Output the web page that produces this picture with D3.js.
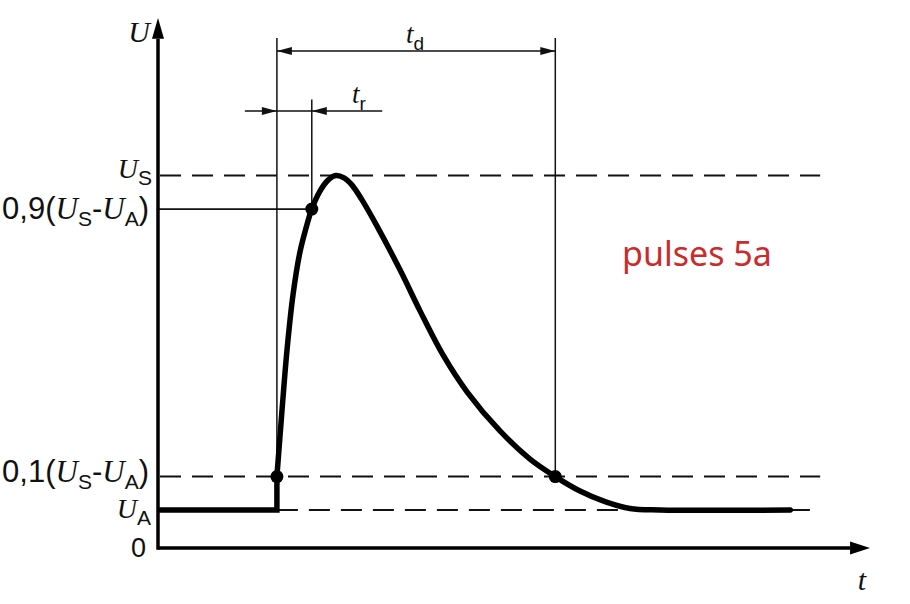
<!DOCTYPE html>
<html><head><meta charset="utf-8">
<script src="https://cdn.jsdelivr.net/npm/d3@7"></script>
<style>
html,body{margin:0;padding:0;background:#fff;}
svg{display:block;}
</style></head>
<body>
<svg id="chart" width="910" height="604"></svg>
<script>
// ---- data ----
const stepTime = [0, 16.7, 16.7];
const stepU    = [1.0, 1.0, 1.88];
const curveTime = [16.7, 17.42, 18.12, 18.96, 19.94, 20.79, 21.6, 22.75, 23.88, 25.0, 26.12, 27.25, 28.65, 30.76, 33.99, 36.8, 40.03, 43.4, 48.03, 52.25, 55.8, 59.27, 62.78, 66.29, 70.51, 88.8];
const curveU    = [1.88, 3.63, 5.21, 6.66, 7.79, 8.42, 8.92, 9.39, 9.68, 9.80, 9.74, 9.55, 9.16, 8.47, 7.32, 6.24, 5.08, 4.11, 3.08, 2.34, 1.88, 1.50, 1.22, 1.04, 1.0, 1.0];
const levelNames = ["0", "UA", "U10", "U90", "US"];
const levelU     = [0, 1.0, 1.88, 8.92, 9.8];
const markerTime = [16.7, 21.6, 55.8];
const markerU    = [1.88, 8.92, 1.88];
const riseTime = [16.7, 21.6];    // t_r
const durTime  = [16.7, 55.8];    // t_d
const titleText = "pulses 5a";

// ---- scales ----
const x = d3.scaleLinear().domain([0, 100]).range([158, 870]);
const y = d3.scaleLinear().domain([0, 14]).range([548, 16]);

const svg = d3.select("#chart");
const SANS = "'Liberation Sans', Arial, sans-serif";
const SERIF = "'Liberation Serif', 'Times New Roman', serif";
const INK = "#111";

// reference level lines
const dashEnd = 93.0;
const U = i => levelU[i];
svg.append("line").attr("x1", x(0) + 2).attr("x2", x(dashEnd)).attr("y1", y(U(4))).attr("y2", y(U(4)))
  .attr("stroke", INK).attr("stroke-width", 2).attr("stroke-dasharray", "21,11");
svg.append("line").attr("x1", x(0) + 2).attr("x2", x(dashEnd)).attr("y1", y(U(2))).attr("y2", y(U(2)))
  .attr("stroke", INK).attr("stroke-width", 2).attr("stroke-dasharray", "21,11");
svg.append("line").attr("x1", x(stepTime[1])).attr("x2", x(dashEnd)).attr("y1", y(U(1))).attr("y2", y(U(1)))
  .attr("stroke", INK).attr("stroke-width", 2).attr("stroke-dasharray", "21,11");
svg.append("line").attr("x1", x(0)).attr("x2", x(markerTime[1])).attr("y1", y(U(3))).attr("y2", y(U(3)))
  .attr("stroke", INK).attr("stroke-width", 1.7);

// vertical thin lines
const vTop = 13.42, vTopRise = 11.8;
svg.append("line").attr("x1", x(durTime[0])).attr("x2", x(durTime[0])).attr("y1", y(vTop)).attr("y2", y(U(1)))
  .attr("stroke", INK).attr("stroke-width", 1.5);
svg.append("line").attr("x1", x(riseTime[1])).attr("x2", x(riseTime[1])).attr("y1", y(vTopRise)).attr("y2", y(U(3)))
  .attr("stroke", INK).attr("stroke-width", 1.5);
svg.append("line").attr("x1", x(durTime[1])).attr("x2", x(durTime[1])).attr("y1", y(vTop)).attr("y2", y(U(2)))
  .attr("stroke", INK).attr("stroke-width", 1.5);

function hArrow(tx, ty, dir, len, hw) {
  svg.append("path")
    .attr("d", `M${tx},${ty} L${tx - dir*len},${ty - hw} L${tx - dir*len},${ty + hw} Z`)
    .attr("fill", INK);
}
// t_d dimension
const tdU = 13.08;
svg.append("line").attr("x1", x(durTime[0])).attr("x2", x(durTime[1])).attr("y1", y(tdU)).attr("y2", y(tdU))
  .attr("stroke", INK).attr("stroke-width", 1.5);
hArrow(x(durTime[0]), y(tdU), -1, 15, 4);
hArrow(x(durTime[1]), y(tdU), 1, 15, 4);
// t_r dimension
const trU = 11.5, trLeft = 12.2, trRight = 31.5;
svg.append("line").attr("x1", x(trLeft)).attr("x2", x(trRight)).attr("y1", y(trU)).attr("y2", y(trU))
  .attr("stroke", INK).attr("stroke-width", 1.5);
hArrow(x(riseTime[0]), y(trU), 1, 15, 4);
hArrow(x(riseTime[1]), y(trU), -1, 15, 4);

// axes
svg.append("line").attr("x1", x(0)).attr("x2", x(0)).attr("y1", y(0) + 1.75).attr("y2", y(13.4))
  .attr("stroke", "#000").attr("stroke-width", 3.5);
svg.append("path").attr("d", `M${x(0)},${y(13.95)} L${x(0)-6},${y(13.4)} L${x(0)+6},${y(13.4)} Z`).attr("fill", "#000");
svg.append("line").attr("x1", x(0)).attr("x2", x(97.2)).attr("y1", y(0)).attr("y2", y(0))
  .attr("stroke", "#000").attr("stroke-width", 3.5);
svg.append("path").attr("d", `M${x(100)},${y(0)} L${x(97.2)},${y(0)-6.5} L${x(97.2)},${y(0)+6.5} Z`).attr("fill", "#000");

// pulse
const line = d3.line().x((d) => x(d[0])).y((d) => y(d[1]));
svg.append("path").datum(stepTime.map((t, i) => [t, stepU[i]]))
  .attr("d", line).attr("fill", "none").attr("stroke", "#000").attr("stroke-width", 5.5)
  .attr("stroke-linejoin", "miter").attr("stroke-linecap", "butt");
svg.append("path").datum(curveTime.map((t, i) => [t, curveU[i]]))
  .attr("d", line.curve(d3.curveCatmullRom.alpha(0.5))).attr("fill", "none").attr("stroke", "#000").attr("stroke-width", 5.5)
  .attr("stroke-linejoin", "round").attr("stroke-linecap", "round");

// markers
svg.selectAll("circle.m").data(markerTime).enter().append("circle")
  .attr("cx", (d) => x(d)).attr("cy", (d, i) => y(markerU[i])).attr("r", 6.5).attr("fill", "#000");

function rich(t, parts, size, subSize) {
  parts.forEach(p => {
    const ts = t.append("tspan").text(p.t);
    if (p.k === "it") ts.attr("font-family", SERIF).attr("font-style", "italic").attr("font-size", size);
    else if (p.k === "sub") ts.attr("font-family", SANS).attr("font-size", subSize).attr("dy", 7);
    else ts.attr("font-family", SANS).attr("font-size", size);
    if (p.back) ts.attr("dy", -7);
  });
}
const labelParts = {
  "0":   [{t: "0"}],
  "UA":  [{t: "U", k: "it"}, {t: "A", k: "sub"}],
  "U10": [{t: "0,1("}, {t: "U", k: "it"}, {t: "S", k: "sub"}, {t: "-", back: true}, {t: "U", k: "it"}, {t: "A", k: "sub"}, {t: ")", back: true}],
  "U90": [{t: "0,9("}, {t: "U", k: "it"}, {t: "S", k: "sub"}, {t: "-", back: true}, {t: "U", k: "it"}, {t: "A", k: "sub"}, {t: ")", back: true}],
  "US":  [{t: "U", k: "it"}, {t: "S", k: "sub"}]
};
const labelDy = [9, 8, 5, 10, 2];
const labelX = [146, 151, 149, 149, 152];
const labelSize = [27, 28, 31, 31, 28];
const labelSub = [20, 21, 21, 21, 21];
levelNames.forEach((name, i) => {
  const t = svg.append("text").attr("x", labelX[i]).attr("y", y(levelU[i]) + labelDy[i])
    .attr("text-anchor", "end").attr("fill", INK);
  rich(t, labelParts[name], labelSize[i], labelSub[i]);
});

svg.append("text").attr("x", x(0) - 8).attr("y", 42).attr("text-anchor", "end")
  .attr("font-family", SERIF).attr("font-style", "italic").attr("font-size", 30).attr("fill", INK).text("U");
svg.append("text").attr("x", 862).attr("y", 590).attr("text-anchor", "middle")
  .attr("font-family", SERIF).attr("font-style", "italic").attr("font-size", 30).attr("fill", INK).text("t");

const tdLab = svg.append("text").attr("x", 406).attr("y", 43).attr("fill", INK);
rich(tdLab, [{t: "t", k: "it"}, {t: "d", k: "sub"}], 27, 19);
const trLab = svg.append("text").attr("x", 352).attr("y", 103).attr("fill", INK);
rich(trLab, [{t: "t", k: "it"}, {t: "r", k: "sub"}], 27, 19);

svg.append("text").attr("x", 622).attr("y", 266).attr("font-family", "'Noto Sans', 'Open Sans', sans-serif")
  .attr("font-size", 34).attr("fill", "#cc2b2b").text(titleText);
</script>
</body></html>
